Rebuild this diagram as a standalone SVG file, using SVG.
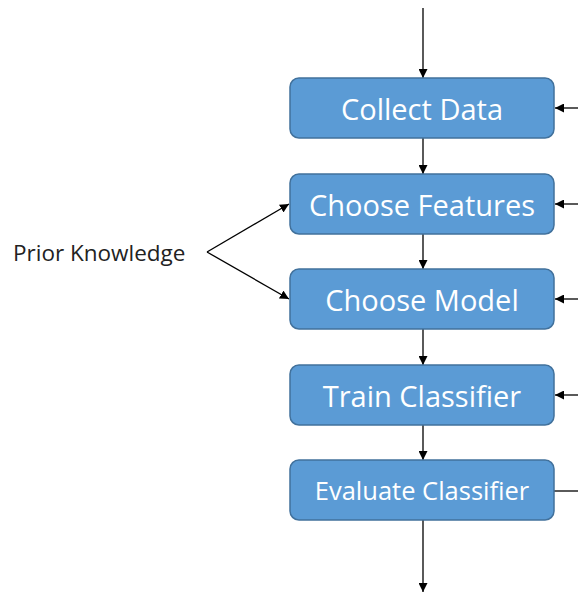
<svg xmlns="http://www.w3.org/2000/svg" width="578" height="594" viewBox="0 0 578 594">
  <style>
    .box { fill: #5B9BD5; stroke: #41719C; stroke-width: 1.5; }
    .lbl { fill: #FFFFFF; font-family: "Open Sans", "Liberation Sans", sans-serif; text-anchor: middle; dominant-baseline: central; }
    .edge { stroke: #000000; stroke-width: 1.3; fill: none; }
    .side { font-family: "Open Sans", "Liberation Sans", sans-serif; font-size: 22.5px; fill: #222222; dominant-baseline: central; }
  </style>
  <defs>
    <marker id="arrow" viewBox="0 0 10 10" refX="10" refY="5" markerWidth="9" markerHeight="9" markerUnits="userSpaceOnUse" orient="auto">
      <path d="M0,0 L10,5 L0,10 z" fill="#000000"/>
    </marker>
  </defs>
  <rect width="578" height="594" fill="#FFFFFF"/>

  <g id="connectors">
    <line class="edge" x1="423" y1="8" x2="423" y2="78" marker-end="url(#arrow)"/>
    <line class="edge" x1="423" y1="138" x2="423" y2="174" marker-end="url(#arrow)"/>
    <line class="edge" x1="423" y1="234" x2="423" y2="269" marker-end="url(#arrow)"/>
    <line class="edge" x1="423" y1="329" x2="423" y2="365" marker-end="url(#arrow)"/>
    <line class="edge" x1="423" y1="425" x2="423" y2="460" marker-end="url(#arrow)"/>
    <line class="edge" x1="423" y1="520" x2="423" y2="592" marker-end="url(#arrow)"/>
    <line class="edge" x1="578" y1="108" x2="555" y2="108" marker-end="url(#arrow)"/>
    <line class="edge" x1="578" y1="204" x2="555" y2="204" marker-end="url(#arrow)"/>
    <line class="edge" x1="578" y1="299" x2="555" y2="299" marker-end="url(#arrow)"/>
    <line class="edge" x1="578" y1="395" x2="555" y2="395" marker-end="url(#arrow)"/>
    <line class="edge" x1="554" y1="491" x2="578" y2="491"/>
    <line class="edge" x1="207" y1="252" x2="289" y2="204" marker-end="url(#arrow)"/>
    <line class="edge" x1="207" y1="252" x2="289" y2="299" marker-end="url(#arrow)"/>
  </g>

  <g id="prior-knowledge">
    <text class="side" x="13" y="252">Prior Knowledge</text>
  </g>

  <g id="collect-data">
    <rect class="box" x="290" y="78" width="264" height="60" rx="9"/>
    <text class="lbl" x="422" y="108" font-size="29">Collect Data</text>
  </g>
  <g id="choose-features">
    <rect class="box" x="290" y="174" width="264" height="60" rx="9"/>
    <text class="lbl" x="422" y="204" font-size="29">Choose Features</text>
  </g>
  <g id="choose-model">
    <rect class="box" x="290" y="269" width="264" height="60" rx="9"/>
    <text class="lbl" x="422" y="299" font-size="29">Choose Model</text>
  </g>
  <g id="train-classifier">
    <rect class="box" x="290" y="365" width="264" height="60" rx="9"/>
    <text class="lbl" x="422" y="395" font-size="29">Train Classifier</text>
  </g>
  <g id="evaluate-classifier">
    <rect class="box" x="290" y="460" width="264" height="60" rx="9"/>
    <text class="lbl" x="422" y="490" font-size="25.5">Evaluate Classifier</text>
  </g>
</svg>
